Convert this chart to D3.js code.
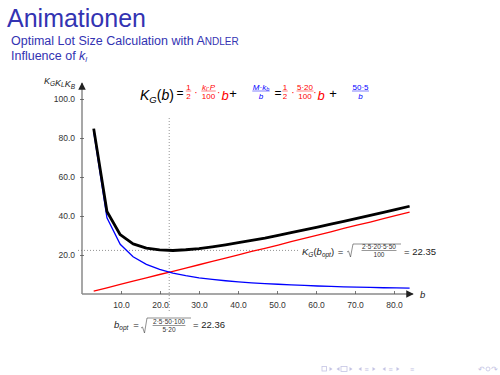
<!DOCTYPE html>
<html>
<head>
<meta charset="utf-8">
<script src="https://cdn.jsdelivr.net/npm/d3@7"></script>
<style>
  html, body { margin: 0; padding: 0; background: #fff; }
  svg { display: block; font-family: "Liberation Sans", Arial, sans-serif; }
</style>
</head>
<body>
<svg id="chart" width="500" height="375"></svg>
<script>
// lot sizes b (sampled as drawn in the figure)
const lotSizes = [3, 6.4, 9.8, 13.1, 16.5, 19.9, 23.3, 26.6, 30, 33.4, 36.8, 40.1, 43.5,
                  46.9, 50.3, 53.6, 57, 60.4, 63.8, 67.1, 70.5, 73.9, 77.3, 80.6, 84];
// storage costs K_L (red)
const storageCost = [1.5, 3.2, 4.9, 6.6, 8.3, 10.0, 11.6, 13.3, 15.0, 16.7, 18.4, 20.1, 21.8,
                     23.4, 25.1, 26.8, 28.5, 30.2, 31.9, 33.6, 35.3, 36.9, 38.6, 40.3, 42.0];
// order costs K_B (blue)
const orderCost = [83.3, 39.1, 25.5, 19.1, 15.2, 12.6, 10.7, 9.4, 8.3, 7.5, 6.8, 6.2, 5.7,
                   5.3, 5.0, 4.7, 4.4, 4.1, 3.9, 3.7, 3.5, 3.4, 3.2, 3.1, 3.0];
// total costs K_G (black)
const totalCost = [84.8, 42.3, 30.4, 25.7, 23.5, 22.6, 22.3, 22.7, 23.3, 24.2, 25.2, 26.3, 27.5,
                   28.7, 30.1, 31.5, 32.9, 34.3, 35.8, 37.3, 38.8, 40.3, 41.8, 43.4, 45.0];
const xTicks = [10, 20, 30, 40, 50, 60, 70, 80];
const yTicks = [20, 40, 60, 80, 100];
const bOpt = 22.36;
const kOpt = 22.35;

const structure = "#3333b2";
const svg = d3.select("#chart");

// Frame title
svg.append("text").attr("x", 7).attr("y", 27)
    .attr("font-size", 25).attr("fill", structure).text("Animationen");
const sub = svg.append("text").attr("x", 11).attr("y", 45)
    .attr("font-size", 12.5).attr("fill", structure);
sub.append("tspan").text("Optimal Lot Size Calculation with A");
sub.append("tspan").attr("font-size", 10).text("NDLER");
const sub2 = svg.append("text").attr("x", 11).attr("y", 60)
    .attr("font-size", 12.5).attr("fill", structure);
sub2.append("tspan").text("Influence of ");
sub2.append("tspan").attr("font-style", "italic").text("k");
sub2.append("tspan").attr("font-style", "italic").attr("font-size", 8).attr("dy", 2).text("l");

// Scales
const x = d3.scaleLinear().domain([0, 85]).range([82, 413.5]);
const y = d3.scaleLinear().domain([0, 100]).range([294, 99]);

const axisColor = "#8a8a8a";
// axes lines with arrows
svg.append("defs").append("marker")
    .attr("id", "arrow").attr("viewBox", "0 0 10 10").attr("refX", 9).attr("refY", 5)
    .attr("markerWidth", 5).attr("markerHeight", 5).attr("orient", "auto")
    .append("path").attr("d", "M0,0 L10,5 L0,10 z").attr("fill", "#222");

svg.append("line").attr("x1", x(0)).attr("x2", 413).attr("y1", y(0)).attr("y2", y(0))
    .attr("stroke", axisColor).attr("stroke-width", 1.5).attr("marker-end", "url(#arrow)");
svg.append("line").attr("x1", x(0)).attr("x2", x(0)).attr("y1", y(0)).attr("y2", 83)
    .attr("stroke", axisColor).attr("stroke-width", 1.5).attr("marker-end", "url(#arrow)");

// ticks
const xAxis = d3.axisBottom(x).tickValues(xTicks).tickSize(0).tickFormat(d3.format(".1f"));
const gx = svg.append("g").attr("transform", `translate(0,${y(0)})`).call(xAxis);
gx.select(".domain").remove();
gx.selectAll("text").attr("font-size", 8.5).attr("fill", "#333").attr("dy", "1.3em")
    .attr("font-family", "Liberation Sans, Arial, sans-serif");
gx.selectAll(".tick").append("line").attr("y1", -3).attr("y2", 0)
    .attr("stroke", "#555").attr("stroke-width", 0.8);

const yAxis = d3.axisLeft(y).tickValues(yTicks).tickSize(0).tickFormat(d3.format(".1f"));
const gy = svg.append("g").attr("transform", `translate(${x(0)},0)`).call(yAxis);
gy.select(".domain").remove();
gy.selectAll("text").attr("font-size", 8.5).attr("fill", "#333").attr("x", -7)
    .attr("font-family", "Liberation Sans, Arial, sans-serif");
gy.selectAll(".tick").append("line").attr("x1", -2).attr("x2", 2)
    .attr("stroke", "#555").attr("stroke-width", 0.8);

// axis labels
const yl = svg.append("text").attr("x", 44).attr("y", 84).attr("font-size", 9)
    .attr("font-style", "italic").attr("fill", "#222");
[["K", "G"], ["K", "L"], ["K", "B"]].forEach(([a, s]) => {
  yl.append("tspan").text(a);
  yl.append("tspan").attr("font-size", 6.5).attr("dy", 1.5).text(s);
  yl.append("tspan").attr("dy", -1.5).text("");
});
svg.append("text").attr("x", 420).attr("y", 298).attr("font-size", 9.5)
    .attr("font-style", "italic").attr("fill", "#222").text("b");

// dotted guides
svg.append("line").attr("x1", x(bOpt)).attr("x2", x(bOpt)).attr("y1", 118).attr("y2", 313)
    .attr("stroke", "#666").attr("stroke-width", 0.7).attr("stroke-dasharray", "1,2");
svg.append("line").attr("x1", 78).attr("x2", 298).attr("y1", y(kOpt)).attr("y2", y(kOpt))
    .attr("stroke", "#666").attr("stroke-width", 0.7).attr("stroke-dasharray", "1,2");

// curves
const line = (vals) => d3.line().x((d, i) => x(lotSizes[i])).y(d => y(d))(vals);
svg.append("path").attr("d", line(storageCost)).attr("fill", "none")
    .attr("stroke", "#ff0000").attr("stroke-width", 1.3);
svg.append("path").attr("d", line(orderCost)).attr("fill", "none")
    .attr("stroke", "#0000ff").attr("stroke-width", 1.3);
svg.append("path").attr("d", line(totalCost)).attr("fill", "none")
    .attr("stroke", "#000").attr("stroke-width", 2.8).attr("stroke-linejoin", "round");

// helper: a small fraction centred at cx, bar at by
function frac(cx, by, num, den, color, size) {
  const s = size || 8;
  const g = svg.append("g").attr("fill", color).attr("font-size", s);
  const n = g.append("text").attr("x", cx).attr("y", by - 1.5).attr("text-anchor", "middle");
  num(n);
  const d = g.append("text").attr("x", cx).attr("y", by + s + 0.3).attr("text-anchor", "middle");
  den(d);
  const w = Math.max(n.node().getComputedTextLength(), d.node().getComputedTextLength());
  g.append("line").attr("x1", cx - w / 2 - 0.5).attr("x2", cx + w / 2 + 0.5)
      .attr("y1", by).attr("y2", by).attr("stroke", color).attr("stroke-width", 0.5);
  return w;
}
const plain = (s) => (t) => t.text(s);
function txt(x0, y0, size, color, build, anchor) {
  const t = svg.append("text").attr("x", x0).attr("y", y0).attr("font-size", size)
      .attr("fill", color).attr("text-anchor", anchor || "start");
  build(t);
  return t;
}

// top formula
const fy = 91, by0 = 100;
txt(140, by0, 14, "#000", t => {
  t.append("tspan").attr("font-style", "italic").text("K");
  t.append("tspan").attr("font-style", "italic").attr("font-size", 9.5).attr("dy", 3).text("G");
  t.append("tspan").attr("dy", -3).text("(");
  t.append("tspan").attr("font-style", "italic").text("b");
  t.append("tspan").text(")");
});
txt(180, 97, 12, "#000", t => t.text("="), "middle");
frac(188.5, fy, plain("1"), plain("2"), "#ff0000");
txt(196, 96, 10, "#ff0000", t => t.text("·"), "middle");
frac(208.5, fy, t => {
  t.append("tspan").attr("font-style", "italic").text("k");
  t.append("tspan").attr("font-style", "italic").attr("font-size", 5.5).attr("dy", 1).text("l");
  t.append("tspan").attr("dy", -1).text("·");
  t.append("tspan").attr("font-style", "italic").text("P");
}, plain("100"), "#ff0000");
txt(218.7, 96, 10, "#ff0000", t => t.text("·"), "middle");
txt(225, by0, 13, "#ff0000", t => t.attr("font-style", "italic").text("b"), "middle");
txt(233, 98, 13, "#000", t => t.text("+"), "middle");
frac(261, fy, t => {
  t.append("tspan").attr("font-style", "italic").text("M");
  t.append("tspan").text("·");
  t.append("tspan").attr("font-style", "italic").text("k");
  t.append("tspan").attr("font-style", "italic").attr("font-size", 5.5).attr("dy", 1).text("b");
}, t => t.attr("font-style", "italic").text("b"), "#0000ff");
txt(278, 97, 12, "#000", t => t.text("="), "middle");
frac(285, fy, plain("1"), plain("2"), "#ff0000");
txt(293, 96, 10, "#ff0000", t => t.text("·"), "middle");
frac(305, fy, plain("5·20"), plain("100"), "#ff0000");
txt(315, 96, 10, "#ff0000", t => t.text("·"), "middle");
txt(321, by0, 13, "#ff0000", t => t.attr("font-style", "italic").text("b"), "middle");
txt(333, 98, 13, "#000", t => t.text("+"), "middle");
frac(360.5, fy, plain("50·5"), t => t.attr("font-style", "italic").text("b"), "#0000ff");

// sqrt helper
function sqrtSign(x0, x1, top, bottom) {
  svg.append("path")
      .attr("d", `M${x0},${bottom - 5} L${x0 + 1.5},${bottom - 6} L${x0 + 3.5},${bottom} L${x0 + 6},${top} L${x1},${top}`)
      .attr("fill", "none").attr("stroke", "#444").attr("stroke-width", 0.6);
}

// K_G(b_opt) label
txt(302, 255, 9.5, "#222", t => {
  t.append("tspan").attr("font-style", "italic").text("K");
  t.append("tspan").attr("font-style", "italic").attr("font-size", 6.5).attr("dy", 2).text("G");
  t.append("tspan").attr("dy", -2).text("(");
  t.append("tspan").attr("font-style", "italic").text("b");
  t.append("tspan").attr("font-style", "italic").attr("font-size", 6.5).attr("dy", 2).text("opt");
  t.append("tspan").attr("dy", -2).text(")");
});
txt(340.5, 255, 9.5, "#222", t => t.text("="), "middle");
frac(379, 250.5, plain("2·5·20·5·50"), plain("100"), "#333", 6.5);
sqrtSign(347, 401, 244, 257);
txt(404, 255, 9.5, "#222", t => t.text("= 22.35"));

// b_opt label
txt(114, 328, 9.5, "#222", t => {
  t.append("tspan").attr("font-style", "italic").text("b");
  t.append("tspan").attr("font-style", "italic").attr("font-size", 6.5).attr("dy", 2).text("opt");
  t.append("tspan").attr("dy", -2).text("");
});
txt(136, 328, 9.5, "#222", t => t.text("="), "middle");
frac(169, 325.5, plain("2·5·50·100"), plain("5·20"), "#333", 6.5);
sqrtSign(141, 191, 318, 333);
txt(193, 328, 9.5, "#222", t => t.text("= 22.36"));

// beamer navigation symbols
const navColor = "#c4c4e4";
const nav = svg.append("g").attr("fill", navColor).attr("stroke", "none");
const navY = 369;
function tri(cx, dir) {
  nav.append("path").attr("d", dir > 0
      ? `M${cx - 1.5},${navY - 2} L${cx + 1.5},${navY} L${cx - 1.5},${navY + 2} z`
      : `M${cx + 1.5},${navY - 2} L${cx - 1.5},${navY} L${cx + 1.5},${navY + 2} z`);
}
nav.append("rect").attr("x", 322).attr("y", navY - 2.5).attr("width", 4.5).attr("height", 4.5)
    .attr("fill", "none").attr("stroke", navColor).attr("stroke-width", 0.8);
tri(331, 1);
tri(338, -1);
nav.append("rect").attr("x", 341).attr("y", navY - 2.5).attr("width", 6).attr("height", 5)
    .attr("fill", "none").attr("stroke", navColor).attr("stroke-width", 0.8);
tri(351, 1);
tri(360, -1);
nav.append("text").attr("x", 366.5).attr("y", navY + 3).attr("font-size", 7).attr("text-anchor", "middle").text("≡");
tri(374, 1);
tri(384, -1);
nav.append("text").attr("x", 390.5).attr("y", navY + 3).attr("font-size", 7).attr("text-anchor", "middle").text("≡");
tri(398, 1);
nav.append("text").attr("x", 412).attr("y", navY + 3).attr("font-size", 7).attr("text-anchor", "middle").text("≡");
nav.append("text").attr("x", 481).attr("y", navY + 3).attr("font-size", 8).attr("text-anchor", "middle").text("↶");
nav.append("circle").attr("cx", 488).attr("cy", navY).attr("r", 2)
    .attr("fill", "none").attr("stroke", navColor).attr("stroke-width", 0.8);
nav.append("text").attr("x", 494).attr("y", navY + 3).attr("font-size", 8).attr("text-anchor", "middle").text("↷");
</script>
</body>
</html>
